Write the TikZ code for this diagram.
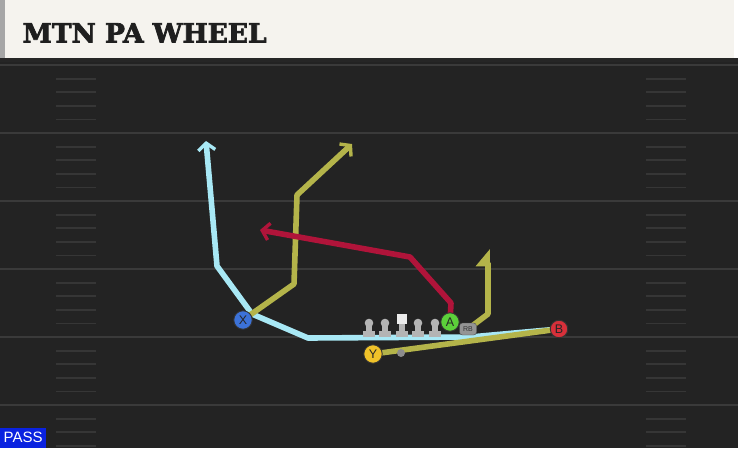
\documentclass[tikz,border=0pt]{standalone}
\usepackage{fontspec}
\setmainfont{Liberation Sans}
\newfontfamily\titlefont{DejaVu Serif}[BoldFeatures={FakeBold=2.6}]
\usetikzlibrary{arrows.meta}
\definecolor{field}{HTML}{232323}
\definecolor{header}{HTML}{F5F3EE}
\definecolor{yardline}{HTML}{3A3A3A}
\definecolor{hashline}{HTML}{363636}
\definecolor{skyroute}{HTML}{A8E8F5}
\definecolor{oliveroute}{HTML}{B4B44A}
\definecolor{redroute}{HTML}{B0143A}
\definecolor{xblue}{HTML}{3C72D8}
\definecolor{agreen}{HTML}{5CD03A}
\definecolor{bred}{HTML}{D8303A}
\definecolor{yyellow}{HTML}{F0C229}
\definecolor{lineman}{HTML}{B4B4B4}
\definecolor{passblue}{HTML}{0A22E0}
\pgfdeclarelayer{bg}
\pgfdeclarelayer{routes}
\pgfsetlayers{bg,routes,main}

\begin{document}
\begin{tikzpicture}[x=1pt, y=-1pt,
    player/.style={circle, draw=black!80, line width=0.9pt, inner sep=0pt, minimum size=18.5pt,
        text=black!85, font=\fontsize{12.5}{12.5}\selectfont},
    route/.style={line width=5.6pt, line join=round},
    tip/.style={-{Straight Barb[length=7pt, width=17pt, line width=3.4pt]}},
    hook/.style={-{Triangle[left, length=15pt, width=24pt]}},
    hash/.style={hashline, line width=1.8pt}]
\useasboundingbox (0,0) rectangle (738,448);
\clip (0,0) rectangle (738,448);

\begin{pgfonlayer}{bg}
    % field and header
    \fill[field] (0,58) rectangle (738,448);
    \fill[black!85] (0,58) rectangle (738,62);
    \fill[header] (0,0) rectangle (734,58);
    \fill[black!35] (0,0) rectangle (5,58);
    \foreach \y in {65,133,...,405} {
        \draw[yardline, line width=2pt] (0,\y) -- (738,\y);
        \foreach \k in {1,...,4} {
            \draw[hash] (56,\y+13.6*\k) -- (96,\y+13.6*\k);
            \draw[hash] (646,\y+13.6*\k) -- (686,\y+13.6*\k);
        }
    }
\end{pgfonlayer}

\node[anchor=base west, text=black!88, font=\titlefont\bfseries\fontsize{26.5}{26.5}\selectfont] (title) at (19,42.5) {MTN PA WHEEL};
\node[anchor=south west, fill=passblue, text=white, inner sep=0pt, minimum width=46pt, minimum height=20pt,
    font=\fontsize{15}{15}\selectfont] (pass) at (0,448) {PASS};

% line
\foreach \x/\n in {369/LT, 385/LG, 418/RG, 435/RT} {
    \fill[lineman] (\x-6,330.5) rectangle (\x+6,336.5);
    \fill[lineman] (\x-2.6,324) rectangle (\x+2.6,332);
    \fill[lineman] (\x,323) circle (4.3pt);
}
\fill[lineman] (396,330.5) rectangle (408,336.5);
\fill[lineman] (399.4,322) rectangle (404.6,332);
\node[fill=white!92!black, inner sep=0pt, minimum width=10pt, minimum height=10pt] (C) at (402,318.5) {};
\node[circle, fill=black!45, inner sep=0pt, minimum size=8pt] (dot) at (401,353) {};

% players
\node[player, fill=xblue] (X) at (243,320) {X};
\node[player, fill=agreen] (A) at (450,322) {A};
\node[player, fill=bred, minimum size=17.5pt] (B) at (559,329) {B};
\node[player, fill=yyellow] (Y) at (373,354) {Y};
\node[draw=black!70, fill=black!42, rounded corners=3pt, inner sep=0pt, minimum width=17pt, minimum height=12pt,
    text=black!80, font=\fontsize{7}{7}\selectfont] (RB) at (468,329) {RB};

\coordinate (skyend) at (206,141);
\coordinate (wheelend) at (352,144);
\coordinate (redend) at (260,230);
\coordinate (hookend) at (488,249);

% routes
\begin{pgfonlayer}{routes}
    \draw[route, skyroute, tip] (B.center) -- (470,337) -- (308,338) -- (252,314) -- (217,266) -- (skyend);
    \draw[route, oliveroute] (Y.center) -- (B.center);
    \draw[route, oliveroute, tip] (X.center) -- (294,284) -- (297,195) -- (wheelend);
    \draw[route, oliveroute, hook] (RB.center) -- (488,314) -- (hookend);
    \draw[route, redroute, tip] (A.center) -- (451,303) -- (410,257) -- (redend);
\end{pgfonlayer}
\end{tikzpicture}
\end{document}
